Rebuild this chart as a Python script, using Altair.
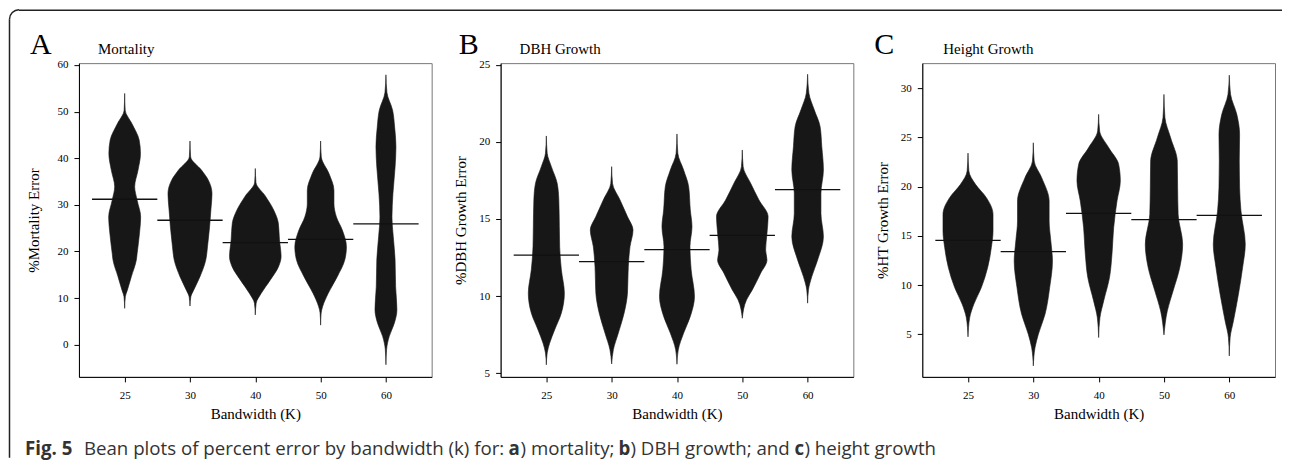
import altair as alt
import pandas as pd

bandwidths = ["25", "30", "40", "50", "60"]

# ---- Panel A: Mortality (bean profiles: value levels and half-widths in slot units)
mort_y = [
    [7.8, 10.3, 11.7, 14.6, 18.2, 19.6, 23.9, 27.4, 31.0, 33.9, 37.4, 41.0, 43.9, 47.4, 50.3, 53.9],
    [8.3, 10.3, 11.7, 14.6, 18.2, 21.0, 25.3, 28.9, 32.4, 35.3, 37.4, 40.3, 43.7],
    [6.4, 8.9, 11.0, 13.9, 16.8, 18.9, 22.5, 26.1, 28.9, 31.9, 34.8, 37.8],
    [4.2, 6.8, 8.2, 11.0, 14.6, 18.2, 21.0, 24.6, 27.4, 30.3, 33.1, 36.7, 40.3, 43.7],
    [-4.3, -1.0, 1.8, 4.6, 7.5, 12.5, 18.2, 23.2, 27.4, 32.4, 38.1, 42.4, 46.7, 50.3, 54.1, 57.9],
]
mort_w = [
    [0, .010, .041, .102, .179, .191, .227, .245, .191, .153, .204, .242, .222, .112, .008, 0],
    [0, .013, .056, .153, .242, .268, .300, .320, .337, .281, .179, .010, 0],
    [0, .013, .089, .230, .357, .395, .370, .352, .281, .153, .010, 0],
    [0, .008, .031, .115, .255, .370, .395, .332, .242, .204, .204, .128, .010, 0],
    [0, .010, .051, .128, .168, .148, .140, .112, .092, .107, .140, .153, .133, .102, .015, 0],
]
mort_mean = [31.2, 26.7, 21.9, 22.6, 25.9]

# ---- Panel B: DBH growth
dbh_y = [
    [5.54, 6.31, 6.95, 7.82, 8.90, 10.19, 11.70, 13.21, 14.50, 16.23, 17.31, 18.39, 19.26, 20.38],
    [5.60, 6.52, 7.60, 8.90, 10.19, 11.91, 13.21, 14.28, 15.15, 16.23, 17.31, 18.39],
    [5.58, 6.52, 7.60, 8.68, 9.97, 11.70, 13.21, 14.50, 15.58, 17.09, 18.17, 19.26, 20.51],
    [8.56, 9.75, 10.40, 11.48, 12.34, 12.99, 14.07, 15.15, 16.23, 17.31, 18.39, 19.47],
    [9.54, 10.40, 11.26, 12.34, 13.85, 15.36, 16.66, 18.17, 19.69, 20.99, 22.07, 23.15, 24.38],
]
dbh_w = [
    [0, .013, .051, .128, .230, .276, .230, .204, .199, .191, .166, .077, .013, 0],
    [0, .026, .102, .191, .242, .255, .281, .327, .242, .128, .013, 0],
    [0, .020, .102, .204, .268, .217, .199, .230, .204, .179, .102, .013, 0],
    [0, .064, .153, .281, .378, .357, .378, .395, .255, .128, .013, 0],
    [0, .013, .064, .153, .242, .204, .204, .242, .217, .191, .102, .020, 0],
]
dbh_mean = [12.65, 12.23, 13.01, 13.94, 16.90]

# ---- Panel C: Height growth
ht_y = [
    [4.73, 6.69, 8.05, 9.74, 11.78, 13.81, 15.50, 17.19, 18.89, 20.24, 21.60, 23.42],
    [1.78, 3.64, 5.00, 7.03, 9.74, 12.45, 14.48, 16.51, 18.55, 20.92, 22.61, 24.47],
    [4.66, 6.69, 8.39, 10.76, 13.13, 15.84, 18.55, 20.59, 22.28, 23.98, 25.67, 27.36],
    [4.93, 7.37, 9.41, 11.78, 14.14, 17.19, 19.90, 22.61, 24.98, 27.02, 29.39],
    [2.79, 4.66, 6.36, 9.07, 11.78, 14.14, 17.53, 19.90, 22.61, 25.33, 27.36, 29.39, 31.35],
]
ht_w = [
    [0, .026, .089, .204, .301, .357, .383, .383, .281, .115, .013, 0],
    [0, .026, .077, .179, .250, .293, .268, .242, .242, .128, .013, 0],
    [0, .020, .077, .166, .204, .230, .281, .332, .306, .153, .015, 0],
    [0, .051, .140, .242, .286, .217, .209, .204, .102, .015, 0],
    [0, .013, .064, .140, .204, .245, .179, .158, .153, .158, .115, .020, 0],
]
ht_mean = [14.55, 13.40, 17.30, 16.65, 17.09]

caption_parts = [
    ("Fig. 5", "bold", 25),
    ("Bean plots of percent error by bandwidth (k) for:", "normal", 84),
    ("a", "bold", 509),
    (") mortality;", "normal", 521),
    ("b", "bold", 619),
    (") DBH growth; and", "normal", 631),
    ("c", "bold", 795),
    (") height growth", "normal", 805),
]

SERIF = "Liberation Serif"
BEAN = "#171717"
PW, PH = 353, 314
label_expr = "[" + ",".join("'%s'" % b for b in bandwidths) + "][datum.value - 1]"
one = pd.DataFrame({"k": [0]})


def bean_frame(ys, ws):
    rows = []
    for i, (yl, wl) in enumerate(zip(ys, ws)):
        for y, w in zip(yl, wl):
            rows.append({"pos": i + 1, "bean": bandwidths[i], "y": y, "w": w})
    return pd.DataFrame(rows)


def panel(letter, title, ytitle, ys, ws, means, ydomain, yticks, letter_dx, title_dx,
          ytitle_pad, extra=()):
    xs = alt.X("lo:Q", scale=alt.Scale(domain=[0.3, 5.7], nice=False, zero=False),
               axis=alt.Axis(values=[1, 2, 3, 4, 5], labelExpr=label_expr,
                             title="Bandwidth (K)", labelPadding=8, titlePadding=6,
                             tickSize=5))
    yenc = alt.Y("y:Q", scale=alt.Scale(domain=ydomain, nice=False, zero=False),
                 axis=alt.Axis(values=yticks, title=ytitle, labelPadding=6,
                               titlePadding=ytitle_pad, tickSize=5))
    area = alt.Chart(bean_frame(ys, ws)).transform_calculate(
        lo="datum.pos - datum.w", hi="datum.pos + datum.w"
    ).mark_area(orient="horizontal", interpolate="monotone", color=BEAN,
                stroke=BEAN, strokeWidth=0.6).encode(
        y=yenc, x=xs, x2="hi:Q", detail="bean:N")
    mdf = pd.DataFrame({"pos": [1, 2, 3, 4, 5], "y": means})
    rules = alt.Chart(mdf).transform_calculate(
        lo="datum.pos - 0.5", hi="datum.pos + 0.5"
    ).mark_rule(color="#111111", strokeWidth=1.3).encode(y=yenc, x=xs, x2="hi:Q")
    let = alt.Chart(one).mark_text(text=letter, font=SERIF, fontSize=30, align="left",
                                   baseline="alphabetic", color="black").encode(
        x=alt.value(letter_dx), y=alt.value(-9))
    ttl = alt.Chart(one).mark_text(text=title, font=SERIF, fontSize=15, align="left",
                                   baseline="alphabetic", color="black").encode(
        x=alt.value(title_dx), y=alt.value(-9))
    return alt.layer(area, rules, let, ttl, *extra).properties(width=PW, height=PH)


# decorations attached to panel A (pixel offsets relative to its plot area)
box_top = alt.Chart(one).mark_rule(color="#222222", strokeWidth=1.5).encode(
    x=alt.value(-60), x2=alt.value(1204), y=alt.value(-53))
box_left = alt.Chart(one).mark_rule(color="#222222", strokeWidth=1.5).encode(
    x=alt.value(-69.5), y=alt.value(-44), y2=alt.value(395))
box_arc = alt.Chart(one).mark_arc(radius=10.25, radius2=8.75, theta=4.712, theta2=6.2832,
                                  color="#222222").encode(x=alt.value(-60), y=alt.value(-44))
caption = [
    alt.Chart(one).mark_text(text=t, font="Open Sans", fontSize=18.7, fontWeight=fw,
                             align="left", baseline="alphabetic", color="#333333").encode(
        x=alt.value(px - 79), y=alt.value(392))
    for t, fw, px in caption_parts
]

pa = panel("A", "Mortality", "%Mortality Error", mort_y, mort_w, mort_mean,
           [-6.9, 60.4], [0, 10, 20, 30, 40, 50, 60], -49, 19, 15,
           extra=[box_top, box_left, box_arc] + caption)
pb = panel("B", "DBH Growth", "%DBH Growth Error", dbh_y, dbh_w, dbh_mean,
           [4.76, 25.1], [5, 10, 15, 20, 25], -42, 19, 10)
pc = panel("C", "Height Growth", "%HT Growth Error", ht_y, ht_w, ht_mean,
           [0.66, 32.57], [5, 10, 15, 20, 25, 30], -48, 21, 10)

chart = alt.hconcat(pa, pb, pc, spacing=69, bounds="flush").properties(
    padding=0, background="white"
).configure_view(
    stroke="#777777", strokeWidth=1
).configure_axis(
    labelFont=SERIF, titleFont=SERIF, labelFontSize=11, titleFontSize=15,
    titleFontWeight="normal", labelColor="black", titleColor="black",
    tickColor="black", domainColor="black", grid=False
)

chart.save("out.html", embed_options={"renderer": "svg", "actions": False})
